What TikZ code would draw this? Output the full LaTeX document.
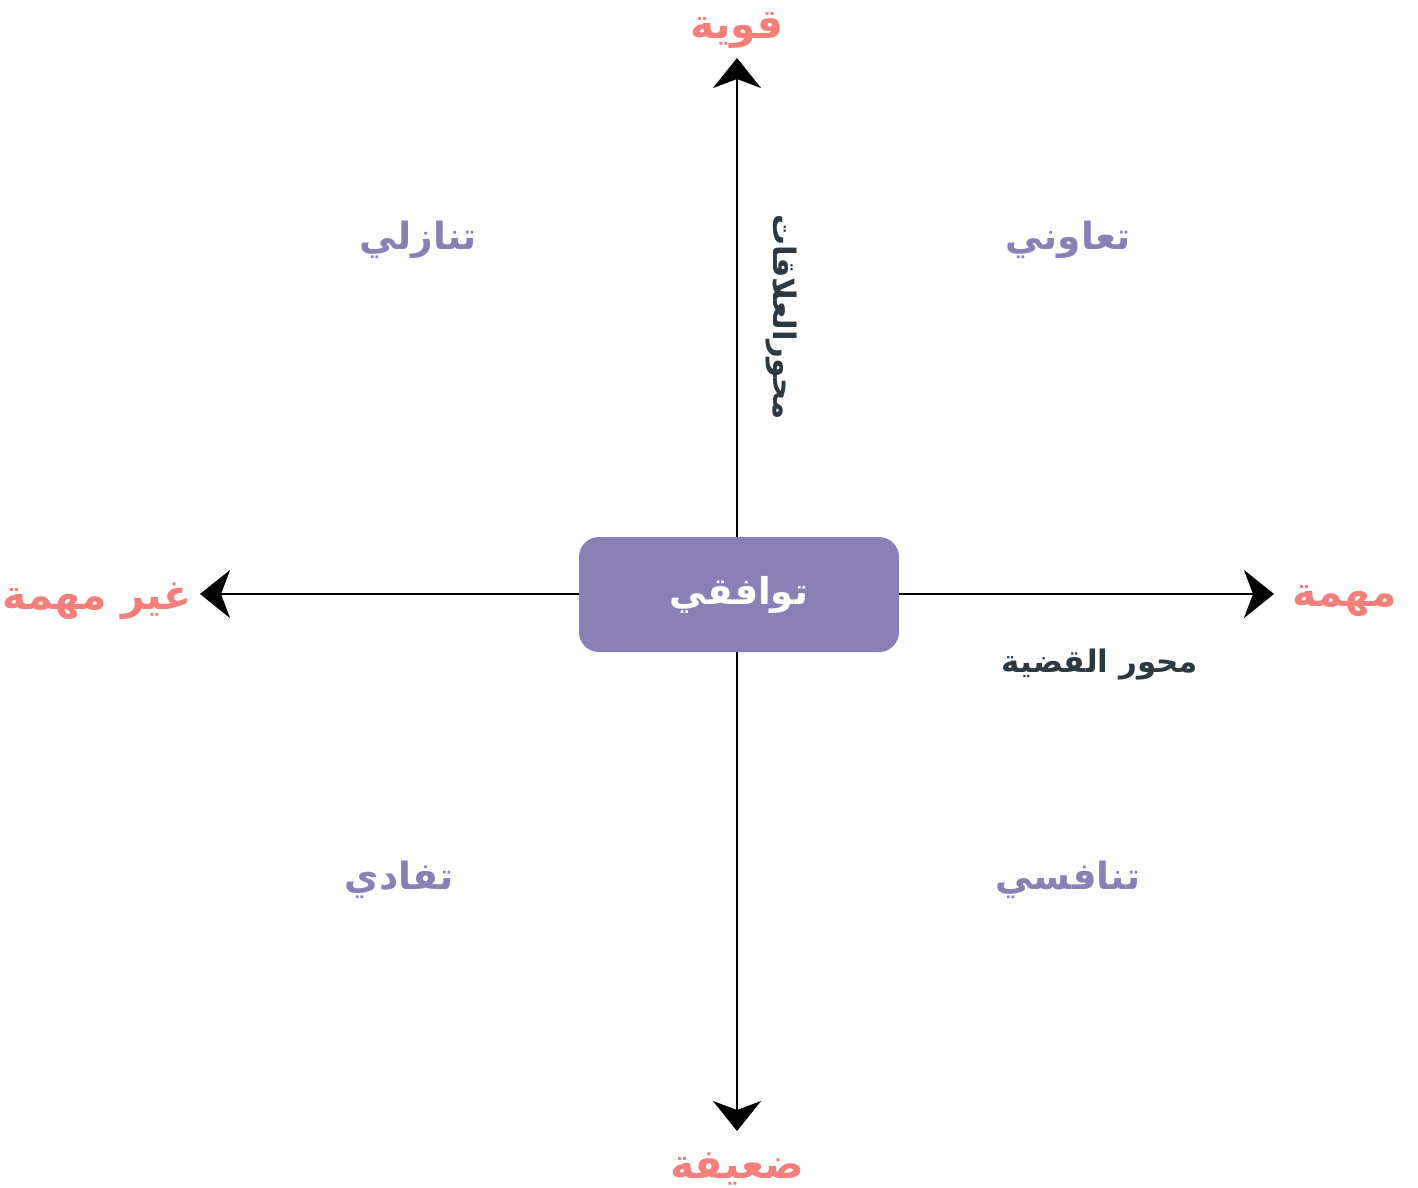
\documentclass[tikz,border=0pt]{standalone}
\usepackage{fontspec}
\usetikzlibrary{arrows.meta}
\TeXXeTstate=1
\newfontfamily\arabicfont[Script=Arabic]{DejaVu Sans}
\definecolor{salmon}{HTML}{F47F7A}
\definecolor{lav}{HTML}{8B80B6}
\definecolor{darktxt}{HTML}{2B3A42}
\tikzset{
  ax/.style={line width=2.8pt, -{Stealth[length=30pt,width=48pt,inset=9pt]}},
  pole/.style={text=salmon, font=\arabicfont\bfseries\fontsize{41}{48}\selectfont, inner sep=0pt},
  quad/.style={text=lav, font=\arabicfont\bfseries\fontsize{37.5}{44}\selectfont, inner sep=0pt},
  axlabel/.style={text=darktxt, font=\arabicfont\bfseries\fontsize{31}{36}\selectfont, inner sep=0pt},
  centerbox/.style={fill=lav, rounded corners=20pt, minimum width=320pt, minimum height=115pt, text=white, font=\arabicfont\bfseries\fontsize{37}{44}\selectfont}
}
\begin{document}
\begin{tikzpicture}[x=1pt,y=-1pt]
\useasboundingbox (0,0) rectangle (1418,1187);
\node[centerbox] (c) at (739,594.5) {\beginR توافقي\endR};
\coordinate (top) at (737,58);
\coordinate (bot) at (737,1131);
\coordinate (lft) at (200,594);
\coordinate (rgt) at (1274,594);
\draw[ax] (c.north -| top) -- (top);
\draw[ax] (c.south -| bot) -- (bot);
\draw[ax] (c.west |- lft) -- (lft);
\draw[ax] (c.east |- rgt) -- (rgt);
\node[pole] (pstrong) at (737,30) {\beginR قوية\endR};
\node[pole] (pweak) at (737,1169) {\beginR ضعيفة\endR};
\node[pole] (pnot) at (97,601) {\beginR غير مهمة\endR};
\node[pole] (pimp) at (1345,601) {\beginR مهمة\endR};
\node[quad] (q1) at (418,240) {\beginR تنازلي\endR};
\node[quad] (q2) at (1068,240) {\beginR تعاوني\endR};
\node[quad] (q3) at (399,880) {\beginR تفادي\endR};
\node[quad] (q4) at (1068,880) {\beginR تنافسي\endR};
\node[axlabel] (lx) at (1100,664) {\beginR محور القضية\endR};
\node[axlabel, rotate=-90] (ly) at (781,317) {\beginR محورالعلاقات\endR};
\end{tikzpicture}
\end{document}
